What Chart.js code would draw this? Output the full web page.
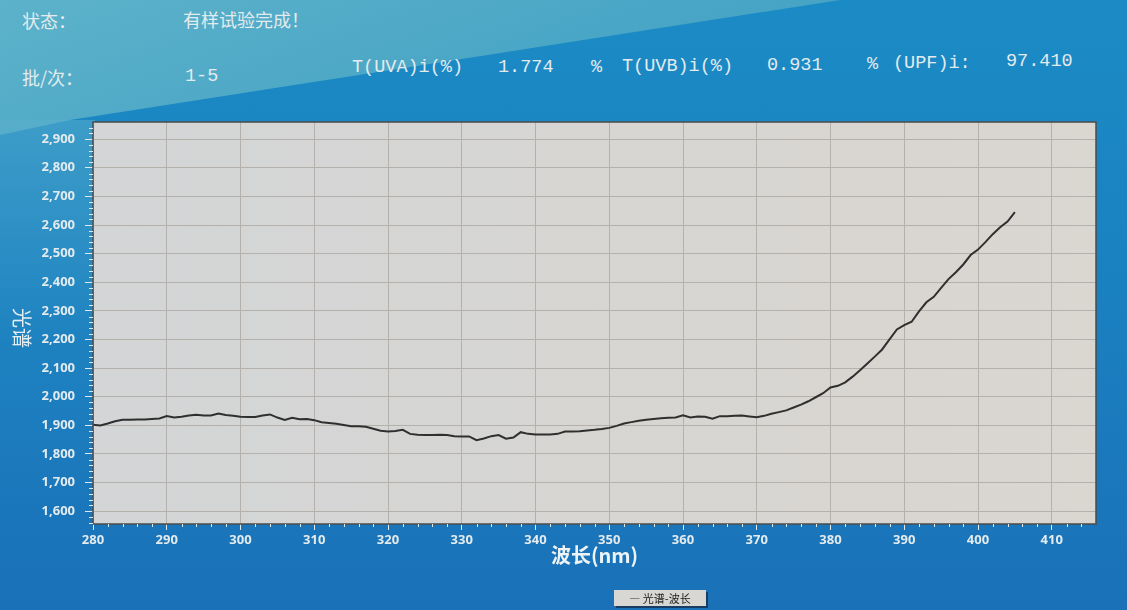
<!DOCTYPE html>
<html lang="zh">
<head>
<meta charset="utf-8">
<title>光谱-波长</title>
<script src="https://cdn.jsdelivr.net/npm/chart.js@4.4.1/dist/chart.umd.min.js"></script>
<style>
  html, body { margin: 0; padding: 0; }
  body {
    width: 1127px; height: 610px; overflow: hidden; position: relative;
    background: linear-gradient(180deg, #1b8bc5 0%, #1a80c0 50%, #1a71b8 100%);
    font-family: "Noto Sans CJK SC", sans-serif; color: #e3ebee;
  }
  .band {
    position: absolute; left: 0; top: 0; width: 1127px; height: 610px;
    background: linear-gradient(160deg, #5cb2ca 0%, #42a1c4 35%, #2f93c3 70%);
    clip-path: polygon(0 0, 840px 0, 70px 120px, 0 135px);
  }
  .side {
    position: absolute; left: 0; top: 120px; width: 95px; height: 490px;
    background: linear-gradient(180deg, rgba(90,175,205,0.55) 0%, rgba(40,140,195,0.25) 45%, rgba(26,115,184,0) 80%);
  }
  .hdr { position: absolute; font-size: 18px; line-height: 1; white-space: pre; }
  .mono { font-family: "Liberation Mono", "DejaVu Sans Mono", monospace; font-size: 18.5px; }
  #ytitle {
    position: absolute; left: 12px; top: 308px;
    writing-mode: vertical-rl; text-orientation: sideways;
    font-size: 20px; line-height: 1; color: #e6eef1;
  }
  #legend {
    position: absolute; left: 614px; top: 590px; width: 92px; height: 16px;
    background: #d9d7d3; color: #222; font-size: 11px; line-height: 16px;
    text-align: center; box-shadow: 2px 2px 0 #173d63;
  }
  #wrap { position: absolute; left: 0; top: 0; width: 1127px; height: 610px; }
</style>
</head>
<body>
<div class="band"></div>
<div class="side"></div>

<div class="hdr" style="left:22px; top:11px;">状态：</div>
<div class="hdr" style="left:183px; top:10px;">有样试验完成！</div>
<div class="hdr" style="left:22px; top:68px;">批/次：</div>
<div class="hdr mono" style="left:185px; top:68px;">1-5</div>
<div class="hdr mono" style="left:352px; top:59px;">T(UVA)i(%)</div>
<div class="hdr mono" style="left:498px; top:59px;">1.774</div>
<div class="hdr mono" style="left:591px; top:59px;">%</div>
<div class="hdr mono" style="left:622px; top:58px;">T(UVB)i(%)</div>
<div class="hdr mono" style="left:767px; top:57px;">0.931</div>
<div class="hdr mono" style="left:867px; top:56px;">%</div>
<div class="hdr mono" style="left:893px; top:55px;">(UPF)i:</div>
<div class="hdr mono" style="left:1006px; top:53px;">97.410</div>

<div id="wrap"><canvas id="spectrum-chart" width="1127" height="610"></canvas></div>
<div id="ytitle">光谱</div>
<div id="legend">— 光谱-波长</div>

<script>
// wavelength (nm) and spectrum readings
const wavelength = [
  280, 281, 282, 283, 284, 285, 286, 287, 288, 289,
  290, 291, 292, 293, 294, 295, 296, 297, 298, 299,
  300, 301, 302, 303, 304, 305, 306, 307, 308, 309,
  310, 311, 312, 313, 314, 315, 316, 317, 318, 319,
  320, 321, 322, 323, 324, 325, 326, 327, 328, 329,
  330, 331, 332, 333, 334, 335, 336, 337, 338, 339,
  340, 341, 342, 343, 344, 345, 346, 347, 348, 349,
  350, 351, 352, 353, 354, 355, 356, 357, 358, 359,
  360, 361, 362, 363, 364, 365, 366, 367, 368, 369,
  370, 371, 372, 373, 374, 375, 376, 377, 378, 379,
  380, 381, 382, 383, 384, 385, 386, 387, 388, 389,
  390, 391, 392, 393, 394, 395, 396, 397, 398, 399,
  400, 401, 402, 403, 404, 405
];
const spectrum = [
  1902, 1899, 1906, 1914, 1919, 1919, 1920, 1920, 1922, 1924,
  1932, 1927, 1930, 1934, 1937, 1934, 1934, 1941, 1936, 1933,
  1930, 1929, 1929, 1934, 1938, 1927, 1919, 1926, 1921, 1922,
  1918, 1911, 1908, 1905, 1901, 1897, 1897, 1895, 1888, 1881,
  1878, 1880, 1884, 1870, 1867, 1866, 1866, 1867, 1866, 1862,
  1861, 1861, 1848, 1854, 1862, 1866, 1853, 1857, 1876, 1870,
  1868, 1868, 1868, 1870, 1878, 1878, 1879, 1882, 1884, 1887,
  1891, 1898, 1906, 1911, 1916, 1919, 1922, 1925, 1926, 1927,
  1935, 1927, 1931, 1930, 1923, 1932, 1932, 1933, 1934, 1931,
  1928, 1933, 1940, 1946, 1952, 1962, 1972, 1984, 1998, 2012,
  2032, 2038, 2050, 2070, 2092, 2116, 2140, 2165, 2200, 2235,
  2250, 2262, 2298, 2330, 2349, 2380, 2411, 2435, 2462, 2495,
  2514, 2540, 2568, 2592, 2612, 2645
];
const xTicks = [280, 290, 300, 310, 320, 330, 340, 350, 360, 370, 380, 390, 400, 410];
const yTicks = [1600, 1700, 1800, 1900, 2000, 2100, 2200, 2300, 2400, 2500, 2600, 2700, 2800, 2900];

(function() {
  'use strict';

  const colors = {
    plot: '#dad6d0',
    plotLeft: '#d3d5d6',
    grid: '#b4b0ab',
    frame: '#4b4b4b',
    line: '#2f2f2f',
    tick: '#dfe9ee',
    text: '#e3ebee'
  };

  // plot background + frame
  const plotFrame = {
    id: 'plotFrame',
    beforeDraw(chart) {
      const { ctx, chartArea: a } = chart;
      const g = ctx.createLinearGradient(a.left, 0, a.right, 0);
      g.addColorStop(0, colors.plotLeft);
      g.addColorStop(1, colors.plot);
      ctx.save();
      ctx.fillStyle = g;
      ctx.fillRect(a.left, a.top, a.right - a.left, a.bottom - a.top);
      ctx.restore();
    },
    afterDraw(chart) {
      const { ctx, chartArea: a } = chart;
      ctx.save();
      ctx.strokeStyle = colors.frame;
      ctx.lineWidth = 1.5;
      ctx.strokeRect(a.left, a.top, a.right - a.left, a.bottom - a.top);
      ctx.restore();
    }
  };

  // small ticks between the labelled ones
  const minorTicks = {
    id: 'minorTicks',
    afterDraw(chart) {
      const { ctx, chartArea: a, scales } = chart;
      ctx.save();
      ctx.strokeStyle = colors.tick;
      ctx.lineWidth = 1;
      ctx.beginPath();
      for (let v = 282; v < scales.x.max; v += 2) {
        if (v % 10 === 0) continue;
        const px = Math.round(scales.x.getPixelForValue(v)) + 0.5;
        ctx.moveTo(px, a.bottom);
        ctx.lineTo(px, a.bottom + 3);
      }
      for (let v = 1560; v < scales.y.max; v += 20) {
        if (v % 100 === 0) continue;
        const py = Math.round(scales.y.getPixelForValue(v)) + 0.5;
        ctx.moveTo(a.left, py);
        ctx.lineTo(a.left - 4, py);
      }
      ctx.stroke();
      ctx.restore();
    }
  };

  const ctx = document.getElementById('spectrum-chart').getContext('2d');

  new Chart(ctx, {
    type: 'line',
    data: {
      datasets: [{
        label: '光谱-波长',
        data: wavelength.map((w, i) => ({ x: w, y: spectrum[i] })),
        borderColor: colors.line,
        borderWidth: 2,
        pointRadius: 0,
        tension: 0,
        fill: false
      }]
    },
    options: {
      responsive: false,
      animation: false,
      layout: { padding: { left: 0, right: 31, top: 122, bottom: 35 } },
      plugins: {
        legend: { display: false },
        tooltip: { enabled: false }
      },
      scales: {
        x: {
          type: 'linear',
          min: 280,
          max: 416,
          afterBuildTicks: s => { s.ticks = xTicks.map(v => ({ value: v })); },
          afterFit: s => { s.height = 51; },
          grid: { color: colors.grid, tickColor: colors.tick, tickLength: 6, lineWidth: 1 },
          border: { display: false },
          ticks: {
            color: colors.text,
            padding: 2,
            maxRotation: 0,
            font: { family: 'Noto Sans', size: 13, weight: 'bold' }
          },
          title: {
            display: true,
            text: '波长(nm)',
            color: '#eef3f5',
            padding: { top: 0, bottom: 8 },
            font: { family: 'Noto Sans CJK SC', size: 20, weight: 'bold' }
          }
        },
        y: {
          min: 1555,
          max: 2960,
          afterBuildTicks: s => { s.ticks = yTicks.map(v => ({ value: v })); },
          afterFit: s => { s.width = 93; },
          grid: { color: colors.grid, tickColor: colors.tick, tickLength: 8, lineWidth: 1 },
          border: { display: false },
          ticks: {
            color: colors.text,
            padding: 10,
            font: { family: 'Noto Sans', size: 13, weight: 'bold' },
            callback: v => v.toLocaleString('en-US')
          }
        }
      }
    },
    plugins: [plotFrame, minorTicks]
  });
})();
</script>
</body>
</html>
